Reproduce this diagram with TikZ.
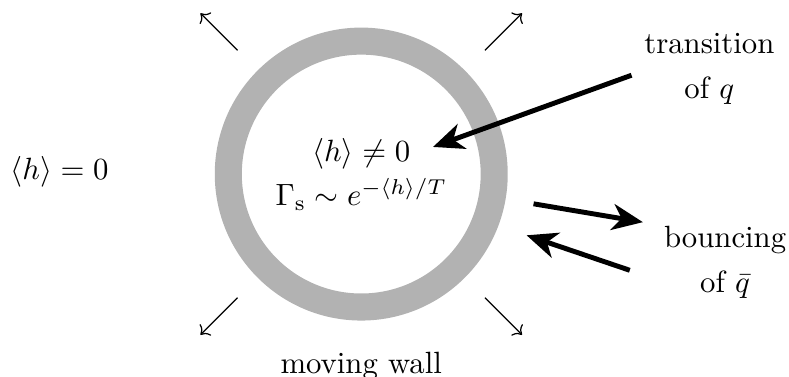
\documentclass[tikz,border=0pt]{standalone}
\usepackage{amsmath,amssymb}
\usetikzlibrary{arrows.meta,positioning}

\begin{document}
\begin{tikzpicture}[
    every node/.style={align=center},
    wall/.style={draw=black!30, line width=8.8pt},
    push/.style={->, thin},
    ray/.style={line width=1.6pt, -{Stealth[length=10pt, width=8.5pt, inset=3pt]}}
]
\useasboundingbox (-4.13,-2.31) rectangle (4.89,1.99);

% --- Bubble ---
\draw[wall] (0,0) circle (1.52cm);
\node (inside) at (0,0) {$\langle h\rangle \neq 0$\\[2.5pt]$\Gamma_{\mathrm{s}} \sim e^{-\langle h\rangle/T}$};
\node (outside) at (-3.45,0.03) {$\langle h\rangle = 0$};
\node (wallname) at (0,-2.19) {moving wall};

% --- Expansion ---
\foreach \a in {45,135,225,315}
    \draw[push] (\a:2cm) -- (\a:2.6cm);

% --- Particles ---
\node (trans) at (3.98,1.2) {transition\\[2.5pt]of $q$};
\node (bounce) at (4.16,-1.01) {bouncing\\[2.5pt]of $\bar{q}$};

\coordinate (qstart) at (3.09,1.13);
\coordinate (qend) at (0.82,0.31);
\coordinate (inA) at (1.97,-0.34);
\coordinate (outA) at (3.22,-0.55);
\coordinate (inB) at (3.07,-1.10);
\coordinate (outB) at (1.89,-0.70);

\draw[ray] (qstart) -- (qend);
\draw[ray] (inA) -- (outA);
\draw[ray] (inB) -- (outB);

\end{tikzpicture}
\end{document}
